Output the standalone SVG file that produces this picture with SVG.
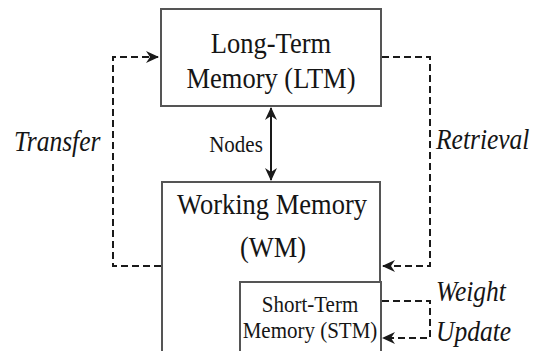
<svg xmlns="http://www.w3.org/2000/svg" width="537" height="351" viewBox="0 0 537 351">
  <defs>
    <style>
      .box { fill: #ffffff; stroke: #555555; stroke-width: 2; }
      .t { font-family: "Liberation Serif", "Times New Roman", serif; fill: #151515; text-anchor: middle; }
      .big { font-size: 26.5px; }
      .small { font-size: 21px; }
      .lab { font-family: "Liberation Serif", "Times New Roman", serif; font-style: italic; font-size: 25.5px; fill: #151515; }
      .dash { fill: none; stroke: #1a1a1a; stroke-width: 2; stroke-dasharray: 7 4; }
      .solid { fill: none; stroke: #1a1a1a; stroke-width: 2; }
    </style>
    <marker id="head" markerUnits="userSpaceOnUse" markerWidth="14" markerHeight="14" refX="12" refY="7" orient="auto-start-reverse" viewBox="0 0 14 14">
      <path d="M0,1 L13,7 L0,13 L4,7 Z" fill="#1a1a1a"/>
    </marker>
  </defs>

  <!-- connectors (text is drawn slightly tall: matrix scales y by 1.12 at the baseline) -->
  <g id="connectors">
    <path class="dash" d="M161,266 H113 V57 H158" marker-end="url(#head)"/>
    <path class="dash" d="M382,57 H430 V266 H383" marker-end="url(#head)"/>
    <path class="dash" d="M382,301 H430 V338 H383" marker-end="url(#head)"/>
    <path class="solid" d="M271,108 V180" marker-start="url(#head)" marker-end="url(#head)"/>
    <text class="t small" transform="matrix(1 0 0 1.12 236 152)">Nodes</text>
    <text class="lab" transform="matrix(1 0 0 1.12 14 151)">Transfer</text>
    <text class="lab" transform="matrix(1 0 0 1.12 436 149)">Retrieval</text>
    <text class="lab" transform="matrix(1 0 0 1.12 436 301)">Weight</text>
    <text class="lab" transform="matrix(1 0 0 1.12 436 341)">Update</text>
  </g>

  <!-- Long-Term Memory -->
  <g id="ltm">
    <rect class="box" x="161" y="9" width="220" height="97"/>
    <text class="t big" transform="matrix(1 0 0 1.12 271 53)">Long-Term</text>
    <text class="t big" transform="matrix(1 0 0 1.12 271 88)">Memory (LTM)</text>
  </g>

  <!-- Working Memory -->
  <g id="wm">
    <rect class="box" x="162" y="182" width="218" height="180"/>
    <text class="t big" transform="matrix(1 0 0 1.12 272 214)">Working Memory</text>
    <text class="t big" transform="matrix(1 0 0 1.12 273 257)">(WM)</text>
  </g>

  <!-- Short-Term Memory -->
  <g id="stm">
    <rect class="box" x="240" y="282" width="141" height="80"/>
    <text class="t small" transform="matrix(1 0 0 1.12 310 312)">Short-Term</text>
    <text class="t small" transform="matrix(1 0 0 1.12 310 338)">Memory (STM)</text>
  </g>
</svg>
